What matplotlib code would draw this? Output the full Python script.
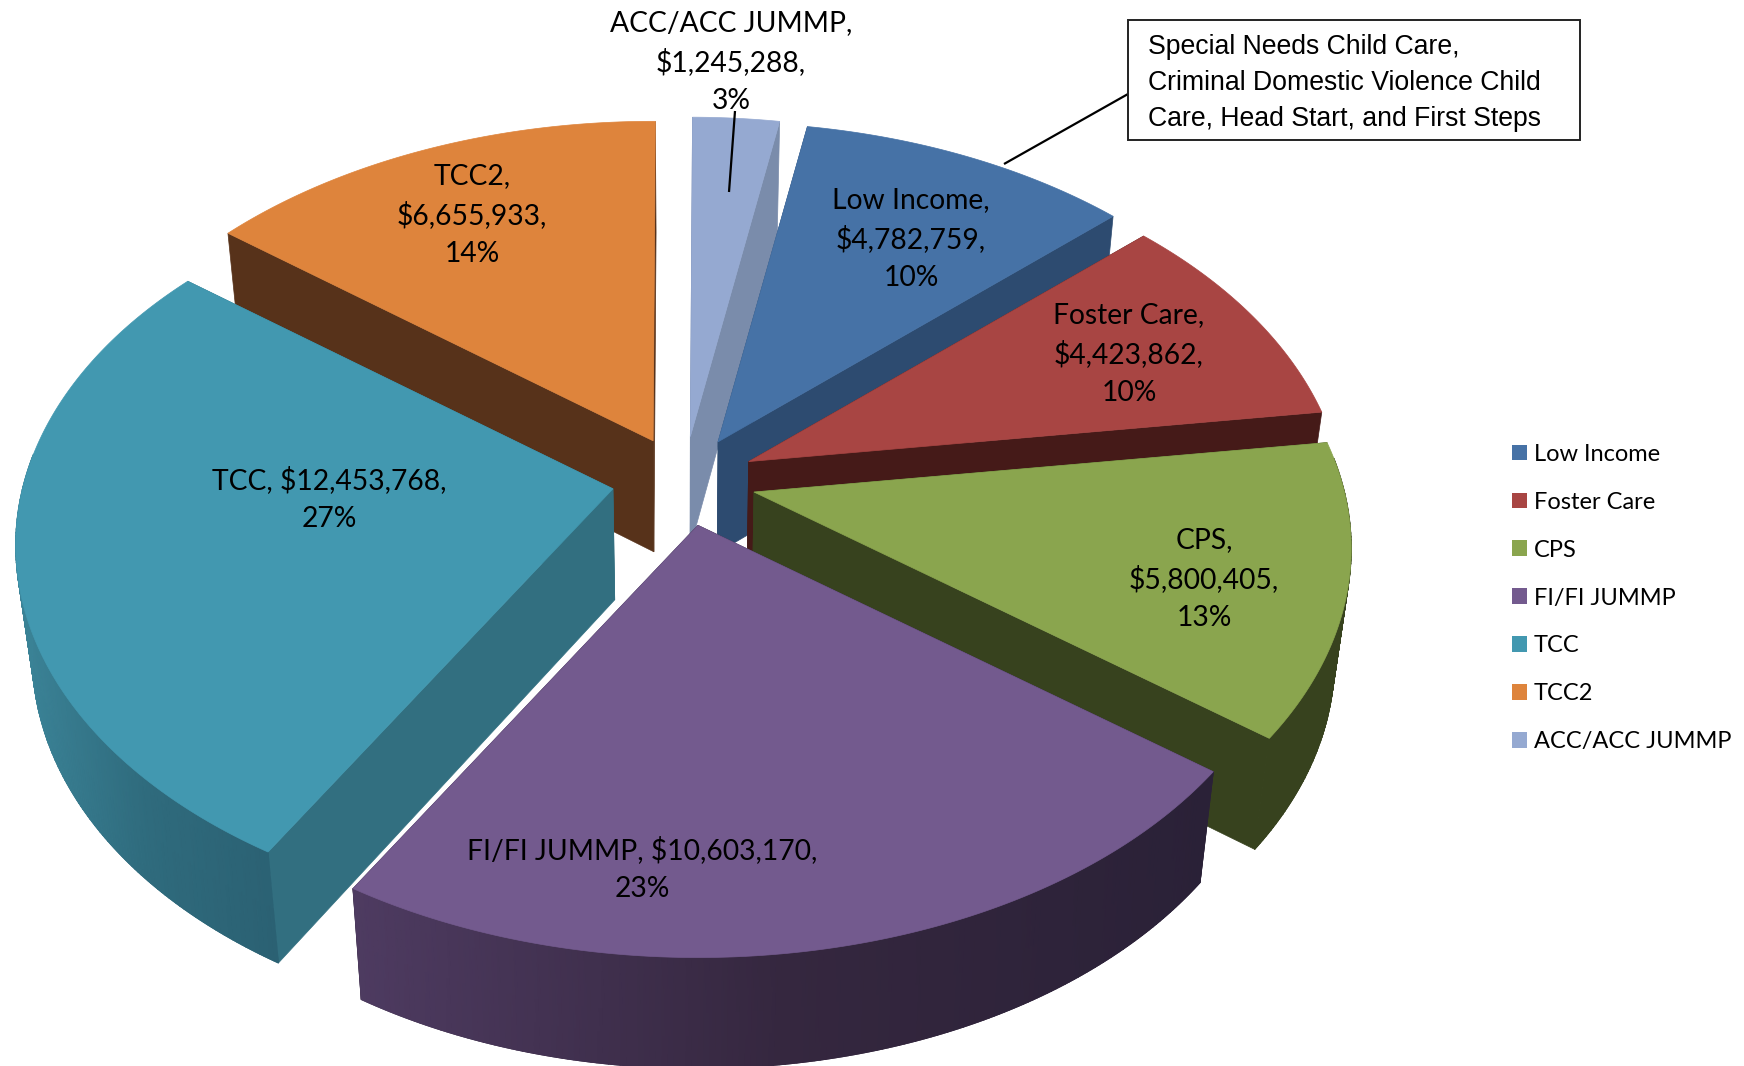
import numpy as np
import matplotlib
matplotlib.use("Agg")
import matplotlib.pyplot as plt
from matplotlib.patches import Polygon, Patch, Rectangle
from matplotlib.colors import LinearSegmentedColormap

# ---- data ----
names = ["Low Income", "Foster Care", "CPS", "FI/FI JUMMP", "TCC", "TCC2", "ACC/ACC JUMMP"]
values = [4782759, 4423862, 5800405, 10603170, 12453768, 6655933, 1245288]
wrap_name = [True, True, True, False, False, True, True]
top_colors = ["#4672a6", "#a84543", "#8aa54e", "#735a8e", "#4298b0", "#de843c", "#95a9d1"]
wall_colors = ["#2d4b70", "#451a18", "#37421e", "#2b2238", "#326f80", "#57321a", "#7a8cab"]
rim_left = ["#2d4b70", "#451a18", "#37421e", "#4e3b61", "#3c8599", "#57321a", "#7a8cab"]
rim_mid = ["#2d4b70", "#451a18", "#37421e", "#35273f", "#2f6b7d", "#57321a", "#7a8cab"]
rim_right = ["#2d4b70", "#451a18", "#37421e", "#2a2137", "#2b6173", "#57321a", "#7a8cab"]
draw_order = [6, 5, 0, 1, 2, 4, 3]
first_angle = 10.0

label_x = [911, 1129, 1204, 642, 329, 472, 731]
label_y = [239, 354, 579, 869, 499, 215, 62]
callout = "Special Needs Child Care,\nCriminal Domestic Violence Child\nCare, Head Start, and First Steps"

# ---- projection of the tilted pie ----
CX, CY, A, B, PERSP = 684.0, 480.5, 590.5, 367.4, 0.15
DEPTH, SHRINK, EXPLODE = 111.0, 0.975, 0.122


def project(u, v):
    w = 1 + PERSP * v
    return A * u / w, -B * v / w


def bottom(x, y):
    return CX + (x - CX) * SHRINK, y + DEPTH


fig = plt.figure(figsize=(17.44, 10.66), dpi=100)
ax = fig.add_axes([0, 0, 1, 1])
ax.set_xlim(0, 1744)
ax.set_ylim(1066, 0)
ax.axis("off")

total = sum(values)
edges = first_angle + 360 * np.concatenate([[0], np.cumsum(values)]) / total

z = 1.0
for i in draw_order:
    t0, t1 = edges[i], edges[i + 1]
    mid = np.radians((t0 + t1) / 2)
    ax0, ay0 = project(EXPLODE * np.sin(mid), EXPLODE * np.cos(mid))
    apex = np.array([CX + ax0, CY + ay0])
    th = np.radians(np.linspace(t0, t1, max(int(t1 - t0) * 2, 4) + 1))
    dx, dy = project(np.sin(th), np.cos(th))
    rx, ry = apex[0] + dx, apex[1] + dy

    # flat end walls
    for k in (0, -1):
        bx, by = bottom(rx[k], ry[k])
        ax_b, ay_b = bottom(*apex)
        ax.add_patch(Polygon([apex, (rx[k], ry[k]), (bx, by), (ax_b, ay_b)],
                             fc=wall_colors[i], ec=wall_colors[i], lw=0.5, zorder=z))
    # curved outer wall, shaded across the screen
    vis = np.cos(th) < 0.1
    if vis.sum() > 1:
        xv, yv = rx[vis], ry[vis]
        bxv, byv = bottom(xv, yv)
        X = np.vstack([xv, bxv])
        Y = np.vstack([yv, byv])
        C = (X - X.min()) / max(X.max() - X.min(), 1)
        cmap = LinearSegmentedColormap.from_list("rim", [rim_left[i], rim_mid[i], rim_right[i]])
        ax.pcolormesh(X, Y, C, shading="gouraud", cmap=cmap, vmin=0, vmax=1, zorder=z + 0.1)
        ax.fill(np.r_[xv, bxv[::-1]], np.r_[yv, byv[::-1]], fc="none",
                ec=rim_mid[i], lw=0.6, zorder=z + 0.05)
    # top face
    ax.add_patch(Polygon(np.vstack([apex, np.column_stack([rx, ry])]),
                         fc=top_colors[i], ec=top_colors[i], lw=0.5, zorder=z + 0.2))
    z += 1

ax.set_xlim(0, 1744)
ax.set_ylim(1066, 0)

# leader lines
ax.plot([735, 729], [111, 192], color="black", lw=1.6, solid_capstyle="butt", zorder=20)
ax.plot([1128, 1004], [94, 164], color="black", lw=1.6, solid_capstyle="butt", zorder=20)

# data labels
LABEL_FONT = "Lato"
for i, n in enumerate(names):
    pct = round(100 * values[i] / total)
    sep = ",\n" if wrap_name[i] else ", "
    ax.text(label_x[i], label_y[i], f"{n}{sep}${values[i]:,},\n{pct}%",
            ha="center", va="center", family=LABEL_FONT, fontsize=20.3,
            linespacing=1.54, color="black", zorder=26)

# callout
ax.add_patch(Rectangle((1128, 20), 452, 120, fc="white", ec="#222222", lw=1.4, zorder=25))
ax.text(1148, 83, callout, ha="left", va="center", family="Liberation Sans",
        fontsize=19.2, linespacing=1.5, color="black", zorder=26)

# legend
handles = [Patch(fc=c, ec="none", label=n) for c, n in zip(top_colors, names)]
ax.legend(handles=handles, loc="center left", bbox_to_anchor=(1512, 598),
          bbox_transform=ax.transData, frameon=False,
          prop={"family": LABEL_FONT, "size": 17},
          handlelength=0.64, handleheight=0.64, handletextpad=0.29,
          labelspacing=1.14, borderpad=0, borderaxespad=0)

fig.savefig("out.png", dpi=100)
